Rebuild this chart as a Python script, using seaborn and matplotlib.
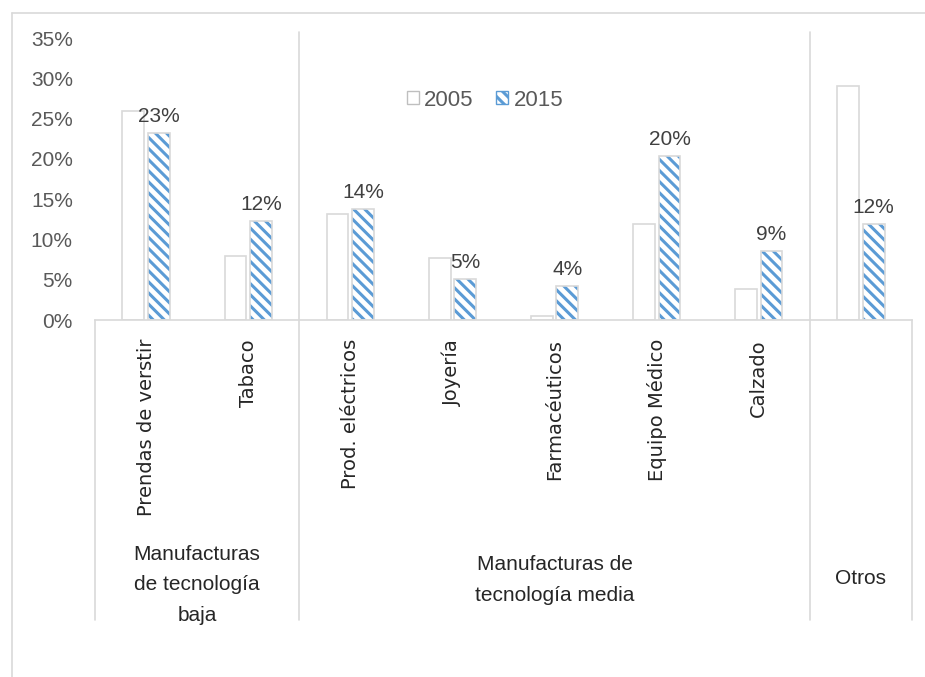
import matplotlib
matplotlib.use('Agg')
import matplotlib.pyplot as plt
import matplotlib.transforms as mtransforms
from matplotlib.lines import Line2D
from matplotlib.patches import Rectangle, Patch
import pandas as pd
import seaborn as sns

# Data
categories = ['Prendas de verstir', 'Tabaco', 'Prod. eléctricos', 'Joyería',
              'Farmacéuticos', 'Equipo Médico', 'Calzado', 'Otros']
# rotated tick labels (the "Otros" column only carries its group label)
tick_labels = ['Prendas de verstir', 'Tabaco', 'Prod. eléctricos', 'Joyería',
               'Farmacéuticos', 'Equipo Médico', 'Calzado', '']
share_2005 = [0.259, 0.080, 0.131, 0.077, 0.005, 0.119, 0.038, 0.290]
share_2015 = [0.232, 0.123, 0.138, 0.051, 0.042, 0.204, 0.086, 0.119]
label_2015 = ['23%', '12%', '14%', '5%', '4%', '20%', '9%', '12%']
groups = ['Manufacturas\nde tecnología\nbaja', 'Manufacturas de\ntecnología media', 'Otros']
group_spans = [(0, 1), (2, 6), (7, 7)]
years = ['2005', '2015']

df = pd.DataFrame({
    'Categoría': categories * 2,
    'Participación': share_2005 + share_2015,
    'Año': ['2005'] * len(categories) + ['2015'] * len(categories),
})

sns.set_style('white')
plt.rcParams['font.family'] = ['DejaVu Sans']
plt.rcParams['hatch.linewidth'] = 2.2

light = ['Liberation Sans', 'DejaVu Sans']
grey_line = '#D9D9D9'
blue = '#5B9BD5'
text_grey = '#595959'
hatch = '\\\\\\'

fig = plt.figure(figsize=(9.25, 6.77), dpi=100)
ax = fig.add_axes([95 / 925, (677 - 320) / 677, 817 / 925, 282 / 677])

sns.barplot(data=df, x='Categoría', y='Participación', hue='Año', order=categories,
            hue_order=years, palette=['white', 'white'], width=0.5, gap=0.15,
            legend=False, ax=ax)

bars_2005 = ax.containers[0]
bars_2015 = ax.containers[1]
for p in bars_2005:
    p.set_edgecolor(grey_line)
    p.set_linewidth(1.2)
for p in bars_2015:
    p.set_edgecolor(blue)
    p.set_hatch(hatch)
    p.set_linewidth(0)
    ax.add_patch(Rectangle((p.get_x(), p.get_y()), p.get_width(), p.get_height(),
                           fill=False, edgecolor=grey_line, linewidth=1.2))

# data labels (2015 only)
ax.bar_label(bars_2015, labels=label_2015, padding=5, fontsize=15,
             color='#404040', family=light)

ax.set_ylim(0, 0.35)
ax.set_xlim(-0.5, len(categories) - 0.5)
ax.set_yticks([i / 100 for i in range(0, 36, 5)])
ax.set_yticklabels([f'{i}%' for i in range(0, 36, 5)])
ax.tick_params(axis='y', length=0, pad=16, labelsize=15, labelcolor=text_grey)
for t in ax.get_yticklabels():
    t.set_family(light)
ax.set_xticks([])
ax.set_xlabel('')
ax.set_ylabel('')
for s in ['top', 'right', 'left']:
    ax.spines[s].set_visible(False)
ax.spines['bottom'].set_color(grey_line)
ax.spines['bottom'].set_linewidth(1.2)

# multi-level category axis
trans = mtransforms.blended_transform_factory(ax.transData, ax.transAxes)
bottom = -300 / 282
for xb in [-0.5, len(categories) - 0.5]:
    ax.add_line(Line2D([xb, xb], [0, bottom], transform=trans, color=grey_line,
                       lw=1.2, clip_on=False))
for xb in [1.5, 6.5]:
    ax.add_line(Line2D([xb, xb], [1.02, bottom], transform=trans, color=grey_line,
                       lw=1.2, clip_on=False))

for i, name in enumerate(tick_labels):
    ax.text(i, -19 / 282, name, transform=trans, rotation=90, ha='center', va='top',
            fontsize=14, color='#262626', family='DejaVu Sans')

group_y = [-(585 - 320) / 282, -(580 - 320) / 282, -(578 - 320) / 282]
for (a, b), name, gy in zip(group_spans, groups, group_y):
    ax.text((a + b) / 2, gy, name, transform=trans, ha='center', va='center',
            fontsize=15, color='#262626', family=light, linespacing=1.75)

# legend
handles = [Patch(facecolor='white', edgecolor='#BFBFBF', label='2005'),
           Patch(facecolor='white', edgecolor=blue, hatch=hatch, label='2015')]
leg = ax.legend(handles=handles, loc='center',
                bbox_to_anchor=(485 / 925, 1 - 100 / 677), bbox_transform=fig.transFigure,
                ncol=2, frameon=False, handlelength=0.55, handleheight=0.55,
                handletextpad=0.25, columnspacing=1.0,
                prop={'family': light, 'size': 16})
for t in leg.get_texts():
    t.set_color(text_grey)

# outer chart border (left and top)
fig.add_artist(Line2D([12 / 925, 12 / 925], [0, 1 - 13 / 677], color=grey_line, lw=1.2))
fig.add_artist(Line2D([12 / 925, 1], [1 - 13 / 677, 1 - 13 / 677], color=grey_line, lw=1.2))

fig.savefig('out.png', dpi=100, facecolor='white')
